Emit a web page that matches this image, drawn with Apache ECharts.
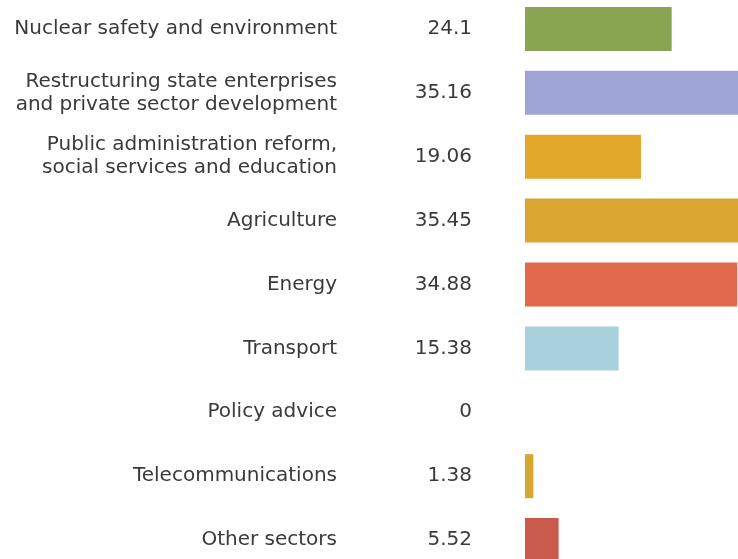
<!DOCTYPE html>
<html>
<head>
<meta charset="utf-8">
<script src="https://cdn.jsdelivr.net/npm/echarts@6/dist/echarts.min.js"></script>
<style>
html, body { margin: 0; padding: 0; background: #fff; }
#cc { width: 738px; height: 559px; }
</style>
</head>
<body>
<div id="cc"></div>
<script>
var sectors = [
    'Nuclear safety and environment',
    'Restructuring state enterprises\nand private sector development',
    'Public administration reform,\nsocial services and education',
    'Agriculture',
    'Energy',
    'Transport',
    'Policy advice',
    'Telecommunications',
    'Other sectors'
];
var amounts = [24.1, 35.16, 19.06, 35.45, 34.88, 15.38, 0, 1.38, 5.52];
var barColors = ['#8aa552', '#9ea5d5', '#e2a82c', '#dba532', '#e06a4b', '#a9d1dc', '#cccccc', '#d5a630', '#c95b4c'];

var chart = echarts.init(document.getElementById('cc'));

var font = 'DejaVu Sans';

var option = {
    animation: false,
    grid: {
        left: 525,
        width: 213,
        top: -3,
        height: 575,
        containLabel: false,
        outerBoundsMode: 'none'
    },
    xAxis: {
        type: 'value',
        min: 0,
        max: 35,
        show: false
    },
    yAxis: {
        type: 'category',
        inverse: true,
        data: sectors,
        axisLine: { show: false },
        axisTick: { show: false },
        axisLabel: {
            margin: 188,
            align: 'right',
            color: '#3a3a3a',
            fontFamily: font,
            fontSize: 20,
            lineHeight: 23
        }
    },
    series: [
        {
            type: 'bar',
            barWidth: 44,
            clip: true,
            data: amounts.map(function (v, i) {
                return { value: v, itemStyle: { color: barColors[i] } };
            }),
            label: {
                show: true,
                position: 'left',
                distance: 53,
                formatter: '{c}',
                color: '#3a3a3a',
                fontFamily: font,
                fontSize: 20
            }
        }
    ]
};

chart.setOption(option);
</script>
</body>
</html>
